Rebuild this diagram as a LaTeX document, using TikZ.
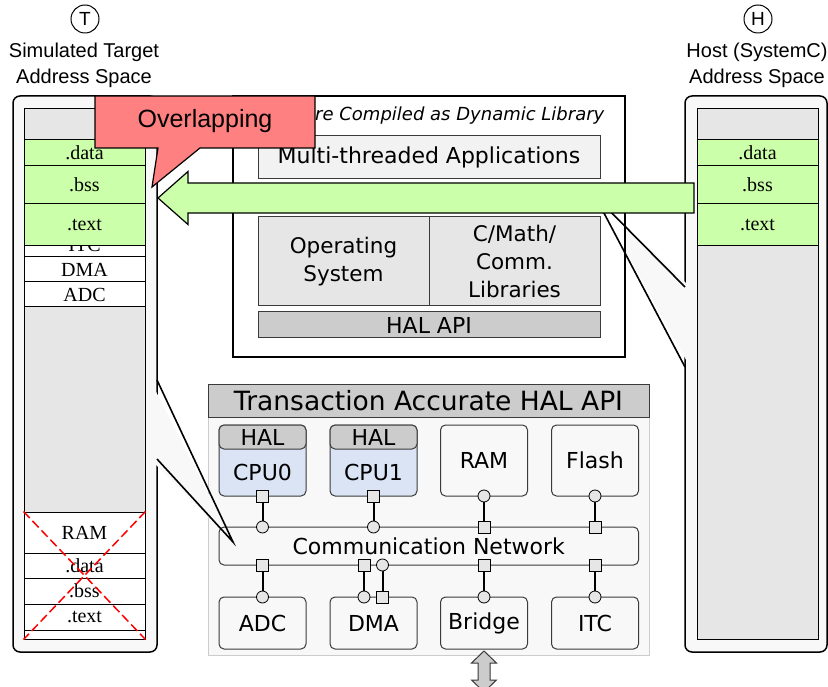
\documentclass[tikz,border=0pt]{standalone}
\usepackage{fontspec}
\setmainfont{Liberation Sans}
\newfontfamily\dvsans{DejaVu Sans}
\newfontfamily\memserif{Liberation Serif}
\usepackage{tikz}

\definecolor{panelgray}{HTML}{F8F8F8}
\definecolor{colgray}{HTML}{E6E6E6}
\definecolor{codegreen}{HTML}{CCFFAA}
\definecolor{warnred}{HTML}{FF8080}
\definecolor{appgray}{HTML}{F2F2F2}
\definecolor{halgray}{HTML}{CCCCCC}
\definecolor{cpublue}{HTML}{DAE4F4}
\definecolor{edgegray}{HTML}{3A3A3A}

\newcommand{\compfont}{\dvsans\fontsize{22}{26}\selectfont}
\newcommand{\layerfont}{\dvsans\fontsize{21.5}{28}\selectfont}
\newcommand{\memfont}{\memserif\fontsize{20}{24}\selectfont}

\tikzset{
  spacemark/.style={circle, draw, line width=1pt, minimum size=28pt, inner sep=0pt, font=\fontsize{19}{22}\selectfont},
  spacetitle/.style={align=center, font=\fontsize{20}{26}\selectfont},
  panel/.style={draw=black, line width=1.5pt, fill=panelgray, rounded corners=7pt},
  column/.style={draw=black, line width=1pt, fill=colgray, minimum width=121pt, minimum height=530pt, inner sep=0pt},
  seg/.style={draw=black, line width=1pt, fill=white, minimum width=121pt, inner sep=0pt, font=\memfont},
  code/.style={seg, fill=codegreen},
  cross/.style={draw=red, line width=1.5pt, dash pattern=on 9pt off 4pt},
  layer/.style={draw=edgegray, line width=1pt, inner sep=0pt, align=center, font=\layerfont},
  comp/.style={draw=edgegray, line width=1pt, fill=panelgray, rounded corners=5pt, minimum width=87pt, inner sep=0pt, font=\compfont},
  halcap/.style={comp, fill=halgray, minimum height=24pt},
  sqport/.style={draw=black, line width=0.8pt, fill=colgray, minimum size=12pt, inner sep=0pt},
  ciport/.style={circle, draw=black, line width=0.8pt, fill=colgray, minimum size=12pt, inner sep=0pt},
  link/.style={line width=2pt},
  pointer/.style={line width=1.6pt, line join=miter},
}

\begin{document}
\begin{tikzpicture}[x=1pt, y=-1pt]
    \useasboundingbox (0,0) rectangle (828,687);

    % address space titles
    \node[spacemark] (T) at (85,19) {T};
    \node[spacetitle] (Ttitle) at (84,65) {Simulated Target\\Address Space};
    \node[spacemark] (H) at (758,19) {H};
    \node[spacetitle] (Htitle) at (757,65) {Host (SystemC)\\Address Space};

    % the two address spaces
    \draw[panel] (13,96) rectangle (157,652);
    \draw[panel] (685,96) rectangle (827,652);
    \fill[panelgray] (690,287) -- (595,196) -- (690,367) -- cycle;

    % dynamic library
    \node[draw, line width=1.2pt, fill=white, minimum width=392pt, minimum height=261pt] (dynlib) at (429,226.5) {};
    \node[font=\dvsans\itshape\fontsize{18}{22}\selectfont] (dyntitle) at (429,116) {Software Compiled as Dynamic Library};
    \node[layer, fill=appgray, minimum width=342pt, minimum height=43pt, font=\compfont] (apps) at (429,157.5) {Multi-threaded Applications};
    \node[layer, fill=colgray, minimum width=171pt, minimum height=89pt] (os) at (343.5,261.5) {Operating\\System};
    \node[layer, fill=colgray, minimum width=171pt, minimum height=89pt] (libs) at (514.5,261.5) {C/Math/\\Comm.\\Libraries};
    \node[layer, fill=halgray, minimum width=342pt, minimum height=26pt, font=\compfont] (halapi) at (429,325) {HAL API};

    % transaction accurate platform
    \node[draw=halgray, line width=1pt, fill=panelgray, minimum width=441pt, minimum height=271pt] (tapanel) at (428.5,519.5) {};
    \node[layer, fill=halgray, minimum width=441pt, minimum height=33pt, font=\dvsans\fontsize{26.5}{30}\selectfont] (taheader) at (428.5,400.5) {Transaction Accurate HAL API};
    \fill[panelgray] (150,380) -- (233,542) -- (150,459) -- cycle;

    \node[comp, fill=cpublue, minimum height=71pt] (cpu0) at (262.5,460.5) {};
    \node[halcap] (hal0) at (262.5,437) {HAL};
    \node[font=\compfont] (cpu0name) at (262.5,472.5) {CPU0};
    \node[comp, fill=cpublue, minimum height=71pt] (cpu1) at (373.5,460.5) {};
    \node[halcap] (hal1) at (373.5,437) {HAL};
    \node[font=\compfont] (cpu1name) at (373.5,472.5) {CPU1};
    \node[comp, minimum height=71pt] (ram) at (484,460.5) {RAM};
    \node[comp, minimum height=71pt] (flash) at (595,460.5) {Flash};
    \node[comp, minimum width=419.5pt, minimum height=38pt] (comm) at (428.75,546) {Communication Network};
    \node[comp, minimum height=52pt] (adc) at (262.5,623) {ADC};
    \node[comp, minimum height=52pt] (dma) at (373.5,623) {DMA};
    \node[comp, minimum height=52pt] (bridge) at (484,623) {Bridge};
    \node[comp, minimum height=52pt] (itc) at (595,623) {ITC};

    % ports
    \node[sqport] (cpu0sq) at (262.5,496) {};
    \node[ciport] (cpu0ci) at (262.5,527) {};
    \node[sqport] (cpu1sq) at (373.5,496) {};
    \node[ciport] (cpu1ci) at (373.5,527) {};
    \node[ciport] (ramci) at (484,496) {};
    \node[sqport] (ramsq) at (484,527) {};
    \node[ciport] (flashci) at (595,496) {};
    \node[sqport] (flashsq) at (595,527) {};
    \node[sqport] (adcsq) at (262.5,565) {};
    \node[ciport] (adcci) at (262.5,597) {};
    \node[sqport] (dmasqa) at (364,565) {};
    \node[ciport] (dmacia) at (364,597) {};
    \node[ciport] (dmacib) at (382.5,565) {};
    \node[sqport] (dmasqb) at (382.5,597) {};
    \node[sqport] (bridgesq) at (484,565) {};
    \node[ciport] (bridgeci) at (484,597) {};
    \node[sqport] (itcsq) at (595,565) {};
    \node[ciport] (itcci) at (595,597) {};
    \draw[link] (cpu0sq) -- (cpu0ci);
    \draw[link] (cpu1sq) -- (cpu1ci);
    \draw[link] (ramci) -- (ramsq);
    \draw[link] (flashci) -- (flashsq);
    \draw[link] (adcsq) -- (adcci);
    \draw[link] (dmasqa) -- (dmacia);
    \draw[link] (dmacib) -- (dmasqb);
    \draw[link] (bridgesq) -- (bridgeci);
    \draw[link] (itcsq) -- (itcci);

    % bus to the outside
    \draw[draw=edgegray, line width=1pt, fill=halgray, line join=miter] (484,651) -- (496.5,663) -- (490,663) -- (490,680) -- (496.5,680) -- (484,692) -- (471.5,680) -- (478,680) -- (478,663) -- (471.5,663) -- cycle;

    % target memory map
    \node[column] (Tcol) at (84.5,374) {};
    \node[seg, minimum height=25pt] (itcT) at (84.5,244.5) {ITC};
    \node[seg, minimum height=25pt] (dmaT) at (84.5,269.5) {DMA};
    \node[seg, minimum height=25pt] (adcT) at (84.5,294.5) {ADC};
    \node[code, minimum height=26pt] (dataT) at (84.5,153) {.data};
    \node[code, minimum height=38pt] (bssT) at (84.5,185) {.bss};
    \node[code, minimum height=41.6pt] (textT) at (84.5,224.8) {.text};
    \node[seg, minimum height=41pt] (ramT) at (84.5,532.5) {RAM};
    \node[seg, minimum height=25pt] (rdataT) at (84.5,565.5) {.data};
    \node[seg, minimum height=26pt] (rbssT) at (84.5,591) {.bss};
    \node[seg, minimum height=26pt] (rtextT) at (84.5,617) {.text};
    \node[seg, minimum height=9pt] (stripT) at (84.5,634.5) {};
    \draw[cross] (ramT.north west) -- (stripT.south east);
    \draw[cross] (ramT.north east) -- (stripT.south west);

    % host memory map
    \node[column] (Hcol) at (757.5,374) {};
    \node[code, minimum height=26pt] (dataH) at (757.5,153) {.data};
    \node[code, minimum height=38pt] (bssH) at (757.5,185) {.bss};
    \node[code, minimum height=41.6pt] (textH) at (757.5,224.8) {.text};

    % callout edges
    \draw[pointer] (157,380) -- (233,542) -- (157,459);
    \draw[pointer] (685,287) -- (595,196) -- (685,367);

    % loading arrow
    \draw[line width=1.2pt, fill=codegreen, line join=miter] (694,183) -- (188,183) -- (188,171.5) -- (158,198) -- (188,224.5) -- (188,213) -- (694,213) -- cycle;

    % overlapping note
    \draw[line width=1.2pt, fill=warnred, line join=miter] (95,96) -- (315,96) -- (315,148) -- (200,148) -- (152,187) -- (158,148) -- (95,148) -- cycle;
    \node[font=\fontsize{25}{30}\selectfont] (overlap) at (205,121) {Overlapping};
\end{tikzpicture}
\end{document}
